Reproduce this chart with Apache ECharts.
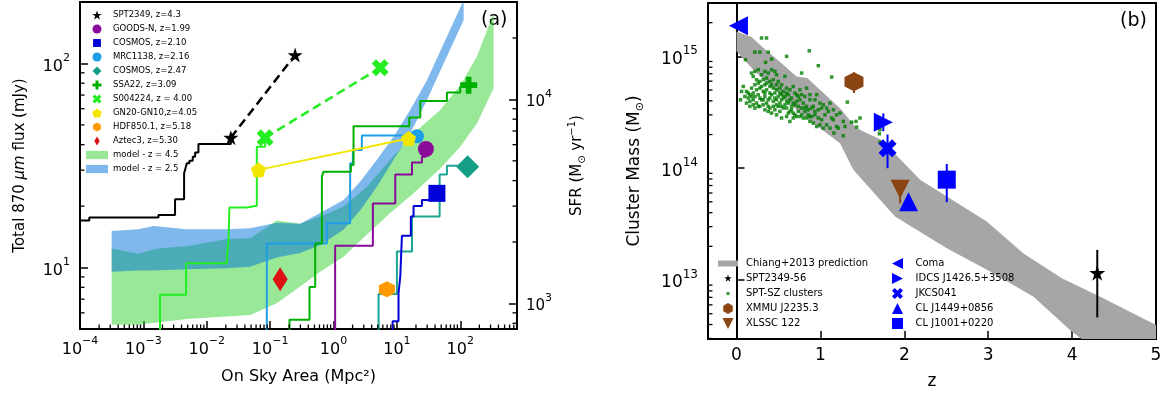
<!DOCTYPE html>
<html>
<head>
<meta charset="utf-8">
<script src="https://cdn.jsdelivr.net/npm/echarts@6/dist/echarts.min.js"></script>
<style>
  html, body { margin: 0; padding: 0; background: #fff; }
  #chart { width: 1164px; height: 397px; }
</style>
</head>
<body>
<div id="chart"></div>
<script>
const FONT = 'DejaVu Sans';
const TICK_COLOR = '#000';

// ---------- panel (a): total 870um flux vs on-sky area ----------
const areaTicks = [1e-4, 1e-3, 1e-2, 1e-1, 1, 10, 100];
const fluxTicks = [10, 100];
const sfrTicks = [1e3, 1e4];

// cumulative step curves (area where level starts, flux level)
const sptStepArea = [1e-4, 1.40e-4, 1.73e-3, 3.16e-3, 4.39e-3, 4.55e-3, 4.83e-3, 5.32e-3, 6.01e-3, 6.55e-3, 7.39e-3, 0.024];
const sptStepFlux = [17.0, 17.6, 18.1, 21.6, 29.0, 30.1, 32.4, 33.4, 34.9, 36.6, 40.3, 43.3];
const s004StepArea = [1.83e-3, 1.83e-3, 4.72e-3, 0.0207, 0.0220, 0.0228, 0.0428, 0.0616, 0.0834];
const s004StepFlux = [4, 7.35, 10.5, 11.0, 13.6, 19.7, 20.1, 39.1, 43.3];
const mrcStepArea = [0.0886, 0.0886, 0.785, 1.83, 2.02, 2.80, 20.7];
const mrcStepFlux = [4, 13.1, 16.5, 32.4, 37.7, 44.3, 44.3];
const ssaStepArea = [0.202, 0.202, 0.418, 0.514, 0.655, 0.695, 1.88, 2.07, 15.7, 23.4, 61.6, 100, 135.5];
const ssaStepFlux = [4, 5.55, 8.02, 13.1, 27.9, 29.5, 31.8, 49.3, 54.4, 65.5, 72.1, 76.9, 78.3];
const goodsStepArea = [1.06, 1.06, 4.18, 9.42, 17.3, 24.8, 28.7];
const goodsStepFlux = [4, 12.8, 20.6, 28.6, 32.7, 34.9, 38.1];
const cos247StepArea = [5.14, 5.14, 10.0, 17.3, 47.2, 61.6, 130.6];
const cos247StepFlux = [4, 7.43, 12.0, 17.8, 28.6, 31.5, 31.5];
const cos210StepArea = [8.55, 8.55, 10.6, 11.3, 12.0, 16.6, 18.3, 24.8, 33.6, 42.8];
const cos210StepFlux = [4, 5.45, 7.48, 9.03, 14.3, 17.8, 20.0, 21.4, 22.9, 23.1];

// individual protoclusters [area, flux]
const sptPts = [[0.024, 43.3], [0.248, 110]];
const goodsPt = [[28.7, 38.1]];
const cos210Pt = [[42.8, 23.1]];
const mrcPt = [[20.7, 44.0]];
const cos247Pt = [[130.6, 31.2]];
const ssaPt = [[135.5, 78.3]];
const s004Pts = [[0.0834, 43.3], [5.45, 95.2]];
const gn20Pts = [[0.0655, 30.1], [15.3, 42.9]];
const hdfPt = [[6.95, 7.83]];
const aztecPt = [[0.144, 8.77]];

// model bands
const modelHiArea = [3.16e-4, 8.34e-4, 1.63e-3, 4.83e-3, 0.0207, 0.0483, 0.127, 0.298, 0.616, 1.44, 3.36, 7.85, 18.3, 48.3, 100, 183, 336];
const modelHiUpper = [12.4, 11.7, 12.4, 12.7, 13.8, 13.9, 17.0, 16.4, 17.8, 19.9, 24.9, 33.7, 45.4, 59.1, 78.3, 108, 176];
const modelHiLower = [5.24, 5.24, 5.38, 5.59, 5.75, 5.86, 6.68, 8.07, 9.55, 11.3, 14.5, 18.5, 23.1, 30.6, 39.1, 50.8, 75.5];
const modelLoArea = [3.16e-4, 8.34e-4, 1.44e-3, 4.83e-3, 0.0207, 0.0483, 0.127, 0.298, 0.616, 1.44, 2.64, 4.83, 8.86, 16.2, 29.8, 54.6, 113];
const modelLoUpper = [15.1, 15.4, 16.0, 15.4, 15.4, 15.6, 16.6, 16.4, 18.5, 21.4, 26.4, 33.7, 43.7, 59.1, 82.8, 125, 204];
const modelLoLower = [9.55, 9.66, 9.66, 9.82, 9.93, 10.1, 11.2, 11.8, 12.9, 15.3, 19.1, 24.9, 33.7, 45.4, 66.2, 100, 163];

// ---------- panel (b): cluster mass vs redshift ----------
const zTicks = [0, 1, 2, 3, 4, 5];
const massTicks = [1e13, 1e14, 1e15];

const chiangZ = [0, 0.179, 0.298, 0.557, 0.716, 0.843, 1.233, 1.432, 1.730, 2.188, 2.983, 3.421, 3.878, 4.336, 5.004];
const chiangUpper = [1.67e15, 1.49e15, 1.23e15, 8.4e14, 6.6e14, 6.4e14, 3.44e14, 2.28e14, 1.79e14, 7.9e13, 3.33e13, 1.73e13, 1.04e13, 7.1e12, 3.95e12];
const chiangLowZ = [0, 0.199, 0.756, 1.233, 1.392, 1.889, 2.506, 3.023, 3.540, 3.978, 4.336, 5.004];
const chiangLower = [1.11e15, 7.6e14, 3.11e14, 1.67e14, 9.7e13, 3.69e13, 1.92e13, 1.19e13, 7.1e12, 3.56e12, 2.2e12, 1.17e12];

// [z, mass, errLo, errHi]
const spt2349b = [4.30, 1.16e13, 4.63e12, 1.86e13];
const xmmu = [1.40, 5.93e14, 4.7e14, 7.2e14];
const xlssc = [1.95, 6.49e13, 4.86e13, 7.87e13];
const coma = [0.023, 1.88e15];
const idcs = [1.75, 2.58e14, 2.14e14, 3.09e14];
const jkcs = [1.80, 1.51e14, 1.0e14, 2.0e14];
const clj1449 = [2.05, 5.0e13];
const clj1001 = [2.506, 7.9e13, 4.97e13, 1.09e14];

// SPT-SZ clusters [z, mass / 1e14]
const sptSz = [
  [.298,14.6],[.358,14.6],[.278,10.9],[.219,10.9],[.378,10.9],[.597,10.0],[.867,11.2],[.107,9.34],[.346,8.84],[.418,9.46],
  [.975,8.25],[.776,7.09],[1.134,6.53],[1.321,3.90],[1.472,2.81],[1.424,2.62],[1.432,2.33],[1.372,2.58],[1.273,1.95],[1.161,2.06],
  [1.702,2.03],[1.710,2.21],[1.710,1.70],
  [.179,7.09],[.219,7.34],[.199,6.62],[.259,7.60],[.298,6.85],[.338,7.34],[.378,7.09],[.418,7.60],[.457,7.34],[.477,6.85],
  [.239,6.18],[.278,5.97],[.318,6.18],[.358,6.40],[.398,5.97],[.438,6.18],[.497,5.97],[.577,6.62],[.537,5.57],[.080,5.38],
  [.119,4.86],[.060,4.86],[.099,4.38],[.159,4.54],[.199,4.70],[.239,5.02],[.278,5.20],[.318,4.86],[.358,5.02],[.398,5.38],
  [.438,5.20],[.477,5.02],[.517,5.20],[.557,4.86],[.597,5.20],[.636,5.02],[.676,5.38],[.716,4.54],[.756,5.02],[.835,5.20],
  [.048,4.09],[.119,3.82],[.159,3.96],[.199,4.09],[.239,3.82],[.278,4.24],[.318,4.09],[.358,3.82],[.398,4.24],[.438,3.96],
  [.477,4.09],[.517,3.82],[.557,4.24],[.597,3.96],[.636,4.09],[.676,3.82],[.716,3.96],[.756,4.09],[.796,3.82],[.835,3.57],
  [.875,4.09],[.915,3.57],[.955,4.54],[.994,3.82],[1.034,3.69],[1.074,3.45],[1.114,3.82],[.159,3.57],[.219,3.45],[.278,3.57],
  [.338,3.33],[.398,3.45],[.457,3.33],[.517,3.22],[.557,3.45],[.617,3.11],[.656,3.33],[.696,3.00],[.736,3.22],[.776,3.00],
  [.815,3.22],[.855,3.00],[.895,2.90],[.935,3.00],[.975,2.81],[1.014,2.71],[1.054,3.00],[1.094,3.22],[1.154,3.33],[1.193,3.00],
  [1.233,3.11],[1.154,2.71],[1.193,2.36],[1.074,2.44],[1.114,2.28],[.994,2.44],[.915,2.53],[.955,2.36],[.875,2.62],[.835,2.81],
  [.756,2.90],[.636,2.62],[.676,2.81],[.597,2.90],[.537,2.81],[.477,3.00],[.418,3.11],[.378,3.22],[.497,3.57],[.537,4.54],
  [.577,4.38],[.617,4.54],[.656,4.24],[.696,4.70],[.736,4.38],[.776,4.54],[.815,4.38],[.875,4.54],[.935,4.09],[1.014,3.45],
  [1.134,2.81],[1.273,2.62],[1.293,2.36],[1.213,2.28],[1.034,2.28],
  [.139,4.24],[.179,4.38],[.219,4.38],[.259,4.54],[.298,4.09],[.338,4.38],[.378,4.09],[.418,4.54],[.457,4.24],[.497,4.38],
  [.537,4.09],[.577,3.69],[.617,3.82],[.656,3.57],[.696,3.69],[.736,3.57],[.776,3.45],[.815,3.45],[.855,3.33],[.895,3.45],
  [.935,3.22],[.975,3.33],[.199,3.69],[.259,3.57],[.318,3.69],[.378,3.57],[.438,3.57],[.477,3.69],[.537,3.57],[.597,3.45],
  [.636,3.22],[.676,3.11],[.716,2.90],[.796,2.81],[.875,2.90],[.259,5.77],[.338,5.57],[.418,5.57],[.477,5.57],[.298,5.38],
  [.358,5.77],[.219,5.57],[.179,5.20],[.139,4.70],[.517,4.70],[.597,4.70],[.457,4.70],[.398,4.70],[.338,4.70]
];

// ---------- helpers ----------
const STAR = 'path://M0,-1 L0.2245,-0.309 L0.951,-0.309 L0.363,0.118 L0.588,0.809 L0,0.382 L-0.588,0.809 L-0.363,0.118 L-0.951,-0.309 L-0.2245,-0.309 Z';
const PENTAGON = 'path://M0,-1 L0.951,-0.309 L0.588,0.809 L-0.588,0.809 L-0.951,-0.309 Z';
const HEXAGON = 'path://M0,-1 L0.866,-0.5 L0.866,0.5 L0,1 L-0.866,0.5 L-0.866,-0.5 Z';
const PLUS = 'path://M-0.33,-1 L0.33,-1 L0.33,-0.33 L1,-0.33 L1,0.33 L0.33,0.33 L0.33,1 L-0.33,1 L-0.33,0.33 L-1,0.33 L-1,-0.33 L-0.33,-0.33 Z';
const XMARK = 'path://M-1,-0.5 L-0.5,-1 L0,-0.5 L0.5,-1 L1,-0.5 L0.5,0 L1,0.5 L0.5,1 L0,0.5 L-0.5,1 L-1,0.5 L-0.5,0 Z';
const THIN_DIAMOND = 'path://M0,-1 L0.6,0 L0,1 L-0.6,0 Z';
const SQUARE = 'path://M-1,-1 L1,-1 L1,1 L-1,1 Z';
const DIAMOND = 'path://M0,-1 L1,0 L0,1 L-1,0 Z';
const TRI_LEFT = 'path://M-1,0 L1,-1 L1,1 Z';
const TRI_RIGHT = 'path://M1,0 L-1,-1 L-1,1 Z';
const TRI_DOWN = 'path://M-1,-1 L1,-1 L0,1 Z';
const TRI_UP = 'path://M-1,1 L1,1 L0,-1 Z';

const zip = (xs, ys) => xs.map((x, i) => [x, ys[i]]);

function powLabel(list) {
  return v => {
    const hit = list.find(t => Math.abs(Math.log10(v) - Math.log10(t)) < 1e-6);
    if (hit === undefined) return '';
    const e = Math.round(Math.log10(hit));
    return '{b|10}{s|' + (e < 0 ? '\u2212' + (-e) : e) + '}';
  };
}
function supRich(size) {
  return {
    b: { fontSize: size, fontFamily: FONT, color: '#000', lineHeight: size + 6, verticalAlign: 'bottom' },
    s: { fontSize: Math.round(size * 0.7), fontFamily: FONT, color: '#000', lineHeight: Math.round(size * 0.7), verticalAlign: 'top' }
  };
}
const MULTS = [2, 3, 4, 5, 6, 7, 8, 9];
function minorTicks(lo, hi) {
  const out = [];
  for (let e = Math.floor(Math.log10(lo)); e <= Math.ceil(Math.log10(hi)); e++) {
    MULTS.forEach(m => { const v = m * Math.pow(10, e); if (v > lo * 1.0001 && v < hi * 0.9999) out.push(v); });
  }
  return out;
}
function tickMarks(xi, yi, vals, side, fixed, len) {
  return {
    type: 'custom', xAxisIndex: xi, yAxisIndex: yi, silent: true, z: 10, clip: false,
    data: vals.map(v => side === 'bottom' ? [v, fixed] : [fixed, v]),
    renderItem: (p, api) => {
      const c = api.coord([api.value(0), api.value(1)]);
      const d = { bottom: [0, -len], left: [len, 0], right: [-len, 0] }[side];
      return { type: 'line', shape: { x1: c[0], y1: c[1], x2: c[0] + d[0], y2: c[1] + d[1] },
               style: { stroke: TICK_COLOR, lineWidth: 1.3 } };
    }
  };
}
function band(name, xi, yi, xs, up, loX, lo, color, opacity, z) {
  return {
    name, type: 'custom', xAxisIndex: xi, yAxisIndex: yi, clip: true, silent: true, z,
    itemStyle: { color, opacity },
    data: [[xs[0], up[0]]],
    renderItem: (p, api) => {
      const pts = xs.map((x, i) => api.coord([x, up[i]]));
      for (let i = loX.length - 1; i >= 0; i--) pts.push(api.coord([loX[i], lo[i]]));
      return { type: 'polygon', shape: { points: pts }, style: { fill: color, opacity } };
    }
  };
}
function stepLine(xs, ys, color) {
  return { type: 'line', step: 'end', xAxisIndex: 0, yAxisIndex: 0, symbol: 'none', clip: true, z: 3,
           silent: true, lineStyle: { color, width: 2 }, data: zip(xs, ys) };
}
function marker(name, xi, yi, data, symbol, size, color, z) {
  return { name, type: 'scatter', xAxisIndex: xi, yAxisIndex: yi, symbol, symbolSize: size,
           itemStyle: { color, opacity: 1 }, data, z: z || 6, silent: true };
}
function errBars(items, color) {
  return {
    type: 'custom', xAxisIndex: 1, yAxisIndex: 2, clip: true, silent: true, z: 7,
    data: items.map(d => [d[0], d[2], d[3]]),
    renderItem: (p, api) => {
      const a = api.coord([api.value(0), api.value(1)]);
      const b = api.coord([api.value(0), api.value(2)]);
      return { type: 'line', shape: { x1: a[0], y1: a[1], x2: b[0], y2: b[1] }, style: { stroke: color, lineWidth: 2 } };
    }
  };
}

const GREEN_BAND = 'rgb(50,210,50)';
const BLUE_BAND = 'rgb(0,114,218)';
const axisLineStyle = { show: true, lineStyle: { color: '#000', width: 2 } };
const majorTick = { show: true, inside: true, length: 8, lineStyle: { color: TICK_COLOR, width: 1.5 } };

const chart = echarts.init(document.getElementById('chart'), null, { renderer: 'canvas' });

const option = {
  animation: false,
  textStyle: { fontFamily: FONT },
  grid: [
    { left: 80, top: 2, width: 437, height: 327, show: true, borderColor: '#000', borderWidth: 2, containLabel: false, outerBoundsMode: 'none' },
    { left: 708, top: 3, width: 448, height: 336, show: true, borderColor: '#000', borderWidth: 2, containLabel: false, outerBoundsMode: 'none' }
  ],
  xAxis: [
    { gridIndex: 0, type: 'log', logBase: 10, min: 1e-4, max: 785,
      axisLine: axisLineStyle, axisTick: majorTick, splitLine: { show: false },
      axisLabel: { margin: 7, formatter: powLabel(areaTicks), rich: supRich(16) },
      name: 'On Sky Area (Mpc\u00b2)', nameLocation: 'middle', nameGap: 40,
      nameTextStyle: { fontSize: 16, color: '#000', fontFamily: FONT } },
    { gridIndex: 1, type: 'value', min: -0.34, max: 5,
      axisLine: axisLineStyle, axisTick: majorTick, splitLine: { show: false },
      axisLabel: { margin: 8, fontSize: 17, color: '#000', fontFamily: FONT,
                   formatter: v => zTicks.includes(v) ? String(v) : '' },
      name: 'z', nameLocation: 'middle', nameGap: 34,
      nameTextStyle: { fontSize: 17, color: '#000', fontFamily: FONT } }
  ],
  yAxis: [
    { gridIndex: 0, type: 'log', logBase: 10, min: 5, max: 200,
      axisLine: axisLineStyle, axisTick: majorTick, splitLine: { show: false },
      axisLabel: { margin: 10, formatter: powLabel(fluxTicks), rich: supRich(16) },
      name: '{n|Total 870 }{i|\u03bcm}{n| flux (mJy)}', nameLocation: 'middle', nameGap: 52, nameRotate: 90,
      nameTextStyle: { color: '#000', rich: {
        n: { fontSize: 15, fontFamily: FONT, color: '#000' },
        i: { fontSize: 15, fontFamily: FONT, color: '#000', fontStyle: 'italic' } } } },
    { gridIndex: 0, type: 'log', logBase: 10, min: 750, max: 30000, position: 'right',
      axisLine: axisLineStyle, axisTick: majorTick, splitLine: { show: false },
      axisLabel: { margin: 9, formatter: powLabel(sfrTicks), rich: supRich(15) },
      name: '{n|SFR (M}{sub|\u2299}{n| yr}{sup|\u22121}{n|)}', nameLocation: 'middle', nameGap: 50, nameRotate: 90,
      nameTextStyle: { color: '#000', rich: {
        n: { fontSize: 15, fontFamily: FONT, color: '#000', lineHeight: 20 },
        sub: { fontSize: 10, fontFamily: FONT, color: '#000', lineHeight: 12, verticalAlign: 'bottom' },
        sup: { fontSize: 10, fontFamily: FONT, color: '#000', lineHeight: 11, verticalAlign: 'top' } } } },
    { gridIndex: 1, type: 'log', logBase: 10, min: 2.97e12, max: 3.0e15,
      axisLine: axisLineStyle, axisTick: majorTick, splitLine: { show: false },
      axisLabel: { margin: 10, formatter: powLabel(massTicks), rich: supRich(17) },
      name: '{n|Cluster Mass (M}{sub|\u2299}{n|)}', nameLocation: 'middle', nameGap: 62, nameRotate: 90,
      nameTextStyle: { color: '#000', rich: {
        n: { fontSize: 17, fontFamily: FONT, color: '#000', lineHeight: 22 },
        sub: { fontSize: 11, fontFamily: FONT, color: '#000', lineHeight: 13, verticalAlign: 'bottom' } } } }
  ],
  legend: [
    { left: 86, top: 9, orient: 'vertical', padding: 0, itemGap: 2, itemWidth: 22, itemHeight: 9,
      selectedMode: false, textStyle: { fontSize: 8.5, lineHeight: 12, color: '#000', fontFamily: FONT },
      data: [
        { name: 'SPT2349, z=4.3', icon: STAR },
        { name: 'GOODS-N, z=1.99', icon: 'circle' },
        { name: 'COSMOS, z=2.10', icon: 'path://M0,0.5 M1,1 L8,1 L8,8 L1,8 Z M9,8.5' },
        { name: 'MRC1138, z=2.16', icon: 'circle' },
        { name: 'COSMOS, z=2.47', icon: DIAMOND },
        { name: 'SSA22, z=3.09', icon: PLUS },
        { name: 'S004224, z = 4.00', icon: XMARK },
        { name: 'GN20-GN10,z=4.05', icon: PENTAGON },
        { name: 'HDF850.1, z=5.18', icon: HEXAGON },
        { name: 'Aztec3, z=5.30', icon: THIN_DIAMOND },
        { name: 'model - z = 4.5', icon: 'path://M0,0 L20,0 L20,7.5 L0,7.5 Z', itemStyle: { color: GREEN_BAND, opacity: 0.5 } },
        { name: 'model - z = 2.5', icon: 'path://M0,0 L20,0 L20,7.5 L0,7.5 Z', itemStyle: { color: BLUE_BAND, opacity: 0.5 } }
      ] },
    { left: 718, top: 257, orient: 'vertical', padding: 0, itemGap: 2, itemWidth: 20, itemHeight: 11,
      selectedMode: false, textStyle: { fontSize: 10, lineHeight: 13, color: '#000', fontFamily: FONT, padding: [0, 0, 0, 3] },
      data: [
        { name: 'Chiang+2013 prediction', icon: 'path://M0,0 L20,0 L20,6 L0,6 Z' },
        { name: 'SPT2349-56', icon: 'path://M-1.4,-1.4 M0,-1 L0.2245,-0.309 L0.951,-0.309 L0.363,0.118 L0.588,0.809 L0,0.382 L-0.588,0.809 L-0.363,0.118 L-0.951,-0.309 L-0.2245,-0.309 Z M1.4,1.4' },
        { name: 'SPT-SZ clusters', icon: 'path://M0,0 M4,4 L7,4 L7,7 L4,7 Z M11,11' },
        { name: 'XMMU J2235.3', icon: HEXAGON },
        { name: 'XLSSC 122', icon: TRI_DOWN }
      ] },
    { left: 892, top: 257, orient: 'vertical', padding: 0, itemGap: 2, itemWidth: 20, itemHeight: 11,
      selectedMode: false, textStyle: { fontSize: 10, lineHeight: 13, color: '#000', fontFamily: FONT, padding: [0, 0, 0, 3] },
      data: [
        { name: 'Coma', icon: TRI_LEFT },
        { name: 'IDCS J1426.5+3508', icon: TRI_RIGHT },
        { name: 'JKCS041', icon: XMARK },
        { name: 'CL J1449+0856', icon: TRI_UP },
        { name: 'CL J1001+0220', icon: SQUARE }
      ] }
  ],
  graphic: [
    { type: 'text', left: 481, top: 11, style: { text: '(a)', fontSize: 19, fontFamily: FONT, fill: '#000' } },
    { type: 'text', left: 1120, top: 12, style: { text: '(b)', fontSize: 19, fontFamily: FONT, fill: '#000' } }
  ],
  series: [
    // ---- panel (a) ----
    band('model - z = 4.5', 0, 0, modelHiArea, modelHiUpper, modelHiArea, modelHiLower, GREEN_BAND, 0.5, 1),
    band('model - z = 2.5', 0, 0, modelLoArea, modelLoUpper, modelLoArea, modelLoLower, BLUE_BAND, 0.5, 1),
    stepLine(sptStepArea, sptStepFlux, '#000'),
    stepLine(s004StepArea, s004StepFlux, '#22ee22'),
    stepLine(mrcStepArea, mrcStepFlux, '#1e9ee6'),
    stepLine(ssaStepArea, ssaStepFlux, '#00b000'),
    stepLine(goodsStepArea, goodsStepFlux, '#8a0a9a'),
    stepLine(cos247StepArea, cos247StepFlux, '#1aa594'),
    stepLine(cos210StepArea, cos210StepFlux, '#0000d8'),
    { type: 'line', xAxisIndex: 0, yAxisIndex: 0, symbol: 'none', z: 4, silent: true,
      lineStyle: { color: '#000', width: 2.5, type: [9, 5] }, data: sptPts },
    { type: 'line', xAxisIndex: 0, yAxisIndex: 0, symbol: 'none', z: 4, silent: true,
      lineStyle: { color: '#22ee22', width: 2.5, type: [9, 5] }, data: s004Pts },
    { type: 'line', xAxisIndex: 0, yAxisIndex: 0, symbol: 'none', z: 4, silent: true,
      lineStyle: { color: '#f2e600', width: 2 }, data: gn20Pts },
    marker('SPT2349, z=4.3', 0, 0, sptPts, STAR, 15, '#000'),
    marker('GOODS-N, z=1.99', 0, 0, goodsPt, 'circle', 16, '#8a0a9a'),
    marker('COSMOS, z=2.10', 0, 0, cos210Pt, SQUARE, 17, '#0000d8'),
    marker('MRC1138, z=2.16', 0, 0, mrcPt, 'circle', 14, '#1e9ee6'),
    marker('COSMOS, z=2.47', 0, 0, cos247Pt, DIAMOND, 23, '#159e86'),
    marker('SSA22, z=3.09', 0, 0, ssaPt, PLUS, 17, '#00b000'),
    marker('S004224, z = 4.00', 0, 0, s004Pts, XMARK, 17, '#22ee22'),
    marker('GN20-GN10,z=4.05', 0, 0, gn20Pts, PENTAGON, 15, '#f2e600', 7),
    marker('HDF850.1, z=5.18', 0, 0, hdfPt, HEXAGON, 16, '#ff9a00'),
    marker('Aztec3, z=5.30', 0, 0, aztecPt, THIN_DIAMOND, [15, 24], '#dd1111'),
    tickMarks(0, 0, minorTicks(1e-4, 785), 'bottom', 5, 4.5),
    tickMarks(0, 0, minorTicks(5, 200), 'left', 1e-4, 4.5),
    tickMarks(0, 1, minorTicks(750, 30000), 'right', 785, 4.5),
    // ---- panel (b) ----
    band('Chiang+2013 prediction', 1, 2, chiangZ, chiangUpper, chiangLowZ, chiangLower, '#a6a6a6', 1, 1),
    { name: 'SPT-SZ clusters', type: 'scatter', xAxisIndex: 1, yAxisIndex: 2, symbol: 'rect', symbolSize: 3.5,
      itemStyle: { color: '#008000' }, z: 3, silent: true, data: sptSz.map(d => [d[0], d[1] * 1e14]) },
    errBars([xmmu, xlssc], '#8b4513'),
    errBars([idcs, jkcs, clj1001], '#0000ff'),
    errBars([spt2349b], '#000'),
    marker('SPT2349-56', 1, 2, [spt2349b.slice(0, 2)], STAR, 16, '#000'),
    marker('XMMU J2235.3', 1, 2, [xmmu.slice(0, 2)], HEXAGON, 19, '#8b4513'),
    marker('XLSSC 122', 1, 2, [xlssc.slice(0, 2)], TRI_DOWN, 19, '#8b4513'),
    marker('Coma', 1, 2, [coma], TRI_LEFT, 19, '#0000ff'),
    marker('IDCS J1426.5+3508', 1, 2, [idcs.slice(0, 2)], TRI_RIGHT, 19, '#0000ff'),
    marker('JKCS041', 1, 2, [jkcs.slice(0, 2)], XMARK, 18, '#0000ff'),
    marker('CL J1449+0856', 1, 2, [clj1449], TRI_UP, 19, '#0000ff'),
    marker('CL J1001+0220', 1, 2, [clj1001.slice(0, 2)], SQUARE, 18, '#0000ff'),
    tickMarks(1, 2, minorTicks(2.97e12, 3.0e15), 'left', -0.34, 4.5)
  ]
};
chart.setOption(option);
</script>
</body>
</html>
